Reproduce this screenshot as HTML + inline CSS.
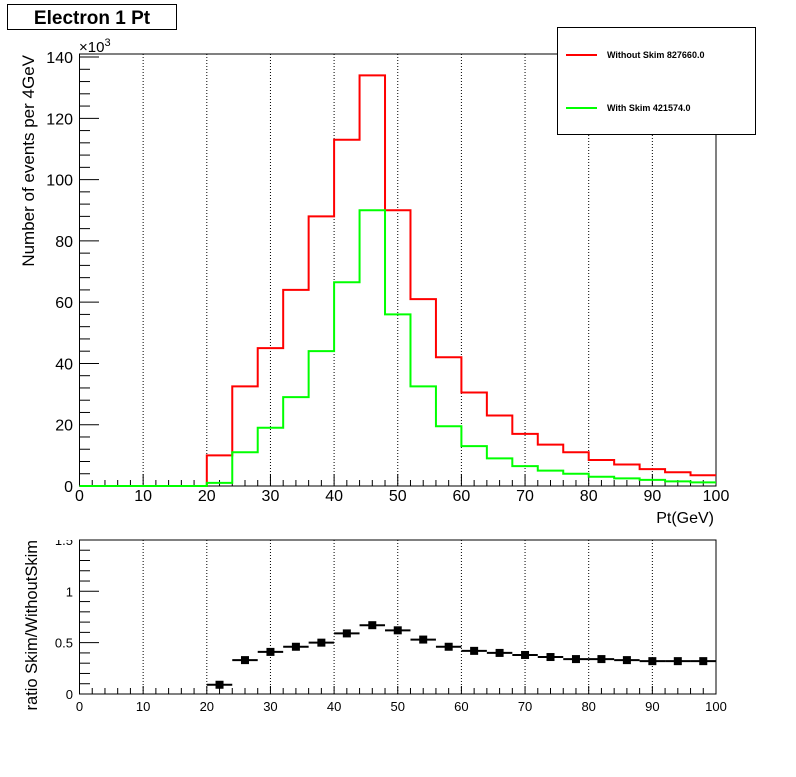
<!DOCTYPE html>
<html><head><meta charset="utf-8"><style>
body{margin:0;background:#fff;}
svg{font-family:"Liberation Sans",Arial,sans-serif;}
</style></head><body>
<svg id="c" width="796" height="772" xmlns="http://www.w3.org/2000/svg">
<defs><clipPath id="botClip"><rect x="0" y="540" width="796" height="232"/></clipPath></defs>
<rect width="796" height="772" fill="#fff"/>
<g id="title">
<rect x="7.5" y="4.5" width="169" height="25" fill="#fff" stroke="#000"/>
<text x="92" y="24" text-anchor="middle" font-size="19" font-weight="bold">Electron 1 Pt</text>
</g>
<g id="topPanel"></g>
<g id="botPanel"></g>
<g id="legend">
<rect x="557.5" y="27.5" width="198" height="107" fill="#fff" stroke="#000"/>
<line x1="566" y1="55" x2="597" y2="55" stroke="#f00" stroke-width="2"/>
<text x="607" y="58" font-size="9" font-weight="bold">Without Skim 827660.0</text>
<line x1="566" y1="108" x2="597" y2="108" stroke="#0f0" stroke-width="2"/>
<text x="607" y="111" font-size="9" font-weight="bold">With Skim 421574.0</text>
</g>
</svg>
<script>
const binEdges=[0,4,8,12,16,20,24,28,32,36,40,44,48,52,56,60,64,68,72,76,80,84,88,92,96,100];
const withoutSkim=[0,0,0,0,0,10,32.5,45,64,88,113,134,90,61,42,30.5,23,17,13.5,11,8.5,7,5.5,4.5,3.5];
const withSkim=[0,0,0,0,0,1,11,19,29,44,66.5,90,56,32.5,19.5,13,9,6.5,5,4,3,2.5,2,1.5,1.2];
const ratioX=[22,26,30,34,38,42,46,50,54,58,62,66,70,74,78,82,86,90,94,98];
const ratioY=[0.09,0.33,0.41,0.46,0.5,0.59,0.67,0.62,0.53,0.46,0.42,0.4,0.38,0.36,0.34,0.34,0.33,0.32,0.32,0.32];
const xTicks=[0,10,20,30,40,50,60,70,80,90,100];
const yTicksTop=[0,20,40,60,80,100,120,140];
const yTicksBot=[0,0.5,1,1.5];
const NS="http://www.w3.org/2000/svg";
const X=v=>79.5+v*6.365;
const YT=v=>486-v*3.064;
const YB=v=>694-v*102.7;
function mk(p,t,a){const e=document.createElementNS(NS,t);for(const k in a)e.setAttribute(k,a[k]);p.appendChild(e);return e;}
function frame(g,y0,y1,Y,yt,yMinor,fs,isTop){
  mk(g,'rect',{x:79.5,y:y0,width:636.5,height:y1-y0,fill:'none',stroke:'#000'});
  xTicks.forEach(t=>{
    if(t>0&&t<100){const gl=mk(g,'line',{x1:X(t),x2:X(t),y1:y0,y2:y1,stroke:'#000','stroke-dasharray':'1,2'});
    
    }
    mk(g,'line',{x1:X(t),x2:X(t),y1:y1,y2:y1-(isTop?12:8),stroke:'#000'});
    const tx=mk(g,'text',{x:X(t),y:y1+(isTop?15:17),'text-anchor':'middle','font-size':fs});
    tx.textContent=t;
    
    
  });
  for(let t=0;t<100;t+=2){if(t%10)mk(g,'line',{x1:X(t),x2:X(t),y1:y1,y2:y1-6,stroke:'#000'});}
  yt.forEach(t=>{
    mk(g,'line',{x1:79.5,x2:99,y1:Y(t),y2:Y(t),stroke:'#000'});
    const attrs={x:73,y:Y(t)+(isTop?6:5),'text-anchor':'end','font-size':fs};
    if(!isTop)attrs['clip-path']='url(#botClip)';
    const tx=mk(g,'text',attrs);
    tx.textContent=t;
    
    
  });
  yMinor.forEach(t=>mk(g,'line',{x1:79.5,x2:90,y1:Y(t),y2:Y(t),stroke:'#000'}));
}
const topG=document.getElementById('topPanel');
const minorT=[];for(let v=4;v<140;v+=4)if(v%20)minorT.push(v);
frame(topG,54,486,YT,yTicksTop,minorT,16,true);
const t1=mk(topG,'text',{x:79,y:52,'font-size':15});
t1.innerHTML='×10<tspan dy="-6" font-size="11">3</tspan>';


const xl=mk(topG,'text',{x:714,y:523,'text-anchor':'end','font-size':16});
xl.textContent='Pt(GeV)';


const yl=mk(topG,'text',{'text-anchor':'end','font-size':17,transform:'translate(34,55) rotate(-90)'});
yl.textContent='Number of events per 4GeV';


function hist(vals,col,name){
  let d='M'+X(binEdges[0])+' '+YT(vals[0]);
  vals.forEach((v,i)=>{d+=' L'+X(binEdges[i])+' '+YT(v)+' L'+X(binEdges[i+1])+' '+YT(v);});
  const p=mk(topG,'path',{d:d,fill:'none',stroke:col,'stroke-width':2});
  
  
}
hist(withoutSkim,'#f00','without-skim-histogram');
hist(withSkim,'#0f0','with-skim-histogram');
const botG=document.getElementById('botPanel');
frame(botG,540,694,YB,yTicksBot,[0.1,0.2,0.3,0.4,0.6,0.7,0.8,0.9,1.1,1.2,1.3,1.4],13,false);
const yl2=mk(botG,'text',{'text-anchor':'end','font-size':16.5,transform:'translate(37,540) rotate(-90)'});
yl2.textContent='ratio Skim/WithoutSkim';


ratioX.forEach((x,i)=>{
  const g=mk(botG,'g',{});
  
  
  mk(g,'line',{x1:X(x-2),x2:X(x+2),y1:YB(ratioY[i]),y2:YB(ratioY[i]),stroke:'#000','stroke-width':2});
  mk(g,'rect',{x:X(x)-4,y:YB(ratioY[i])-4,width:8,height:8,fill:'#000'});
});
</script>
</body></html>
